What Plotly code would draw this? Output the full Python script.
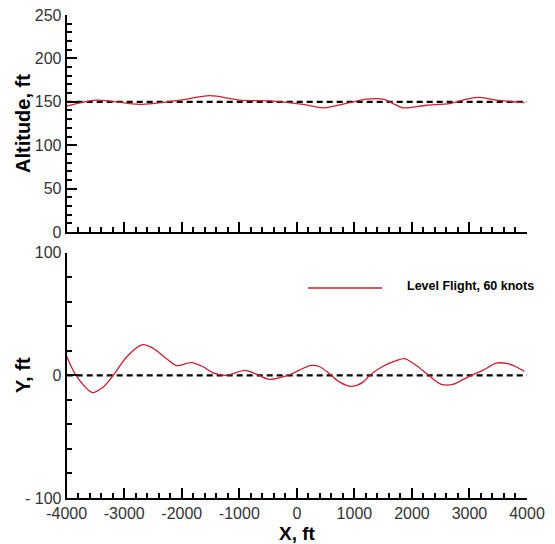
import plotly.graph_objects as go

# ---- data ----
alt_x = [-4000, -3480, -2728, -2033, -1513, -992, -470, 110, 457, 920, 1209, 1498,
         1671, 1845, 2250, 2655, 2886, 3146, 3464, 3956]
alt_y = [145, 152, 147, 152, 157, 152, 151, 147, 143, 149, 153, 153,
         148, 143, 146, 148, 152, 155, 152, 149]

y_x = [-4000, -3838, -3549, -3364, -3190, -2959, -2681, -2496, -2265, -2091, -1831,
       -1629, -1455, -1224, -906, -703, -472, -121, 226, 400, 573, 746, 949, 1151,
       1267, 1498, 1729, 1874, 2076, 2279, 2510, 2713, 2886, 3059, 3233, 3464,
       3667, 3811, 3956]
y_y = [15.5, 0, -14, -9.5, 0, 15, 25, 22, 13.6, 8, 10.4,
       7, 2, 0, 4, 1, -3.3, 0.5, 8, 7, 1, -5.5, -9, -5.5,
       0, 7.4, 12, 13.6, 8, 0.5, -7.4, -7.4, -3.5, 0.5, 4, 10,
       9.5, 7, 3.3]

ref_x = [-4000, 4000]
ref_alt = [150, 150]
ref_y = [0, 0]

x_ticks = [-4000, -3000, -2000, -1000, 0, 1000, 2000, 3000, 4000]
x_tick_labels = ["-4000", "-3000", "-2000", "-1000", "0", "1000", "2000", "3000", "4000"]
alt_ticks = [0, 50, 100, 150, 200, 250]
alt_tick_labels = ["0", "50", "100", "150", "200", "250"]
yy_ticks = [-100, 0, 100]
yy_tick_labels = ["- 100", "0", "100"]

series_name = "Level Flight, 60 knots"
RED = "#d01c2c"

# page offset from the default 8px body margin
OFF = 8
W, H = 555 - OFF, 544 - OFF


def fx(px):
    return (px - OFF) / W


def fy(py):
    return 1 - (py - OFF) / H


x0, x1 = 66.7, 527.0
top_t, top_b = 15.0, 232.0
bot_t, bot_b = 252.7, 498.0

fig = go.Figure()
fig.add_trace(go.Scatter(x=ref_x, y=ref_alt, mode="lines", xaxis="x", yaxis="y",
                         line=dict(color="black", width=2.2, dash="6px,4px"), showlegend=False))
fig.add_trace(go.Scatter(x=alt_x, y=alt_y, mode="lines", xaxis="x", yaxis="y",
                         line=dict(color=RED, width=1.3, shape="spline", smoothing=0.8),
                         name=series_name, showlegend=False))
fig.add_trace(go.Scatter(x=ref_x, y=ref_y, mode="lines", xaxis="x2", yaxis="y2",
                         line=dict(color="black", width=2.2, dash="6px,4px"), showlegend=False))
fig.add_trace(go.Scatter(x=y_x, y=y_y, mode="lines", xaxis="x2", yaxis="y2",
                         line=dict(color=RED, width=1.3, shape="spline", smoothing=0.8),
                         name=series_name, showlegend=False))

tickfont = dict(family="Liberation Sans, Arial, sans-serif", size=16, color="#333")
common = dict(showline=True, linecolor="black", linewidth=2, ticks="inside",
              tickcolor="black", ticklen=10, tickwidth=2, showgrid=False, zeroline=False,
              tickfont=tickfont, mirror=False, automargin=False, ticklabeloverflow="allow")

xdom = [fx(x0), fx(x1)]
fig.update_layout(
    template="none",
    width=W, height=H, margin=dict(l=0, r=0, t=0, b=0, pad=0),
    paper_bgcolor="white", plot_bgcolor="white",
    xaxis=dict(domain=xdom, anchor="y", range=[-4000, 4000], tickvals=x_ticks,
               showticklabels=False,
               minor=dict(ticks="inside", dtick=200, ticklen=5, tickwidth=1.5, tickcolor="black"),
               **common),
    yaxis=dict(domain=[fy(top_b), fy(top_t)], anchor="x", range=[0, 250],
               tickvals=alt_ticks, ticktext=alt_tick_labels,
               minor=dict(ticks="inside", dtick=10, ticklen=5, tickwidth=1.5, tickcolor="black"),
               **common),
    xaxis2=dict(domain=xdom, anchor="y2", range=[-4000, 4000], tickvals=x_ticks,
                ticktext=x_tick_labels,
                minor=dict(ticks="inside", dtick=200, ticklen=5, tickwidth=1.5, tickcolor="black"),
                **common),
    yaxis2=dict(domain=[fy(bot_b), fy(bot_t)], anchor="x2", range=[-100, 100],
                tickvals=yy_ticks, ticktext=yy_tick_labels,
                minor=dict(ticks="inside", dtick=20, ticklen=5, tickwidth=1.5, tickcolor="black"),
                **common),
)

titlefont = dict(family="Liberation Sans, Arial, sans-serif", size=20, color="black", weight="bold")
fig.add_annotation(text="Altitude, ft", x=fx(23), y=fy(124), xref="paper", yref="paper",
                   textangle=-90, showarrow=False, font=titlefont, xanchor="center", yanchor="middle")
fig.add_annotation(text="Y, ft", x=fx(23), y=fy(375), xref="paper", yref="paper",
                   textangle=-90, showarrow=False, font=titlefont, xanchor="center", yanchor="middle")
fig.add_annotation(text="X, ft", x=fx(297), y=fy(533), xref="paper", yref="paper",
                   showarrow=False, xanchor="center", yanchor="middle",
                   font=dict(family="Liberation Sans, Arial, sans-serif", size=19,
                             color="black", weight="bold"))

# manual legend
fig.add_shape(type="line", xref="paper", yref="paper", x0=fx(308), x1=fx(382),
              y0=fy(288), y1=fy(288), line=dict(color=RED, width=1.3))
fig.add_annotation(text=series_name, x=fx(405), y=fy(286), xref="paper", yref="paper",
                   showarrow=False, xanchor="left", yanchor="middle",
                   font=dict(family="Liberation Sans, Arial, sans-serif", size=12.5,
                             color="black", weight="bold"))

fig.write_html("out.html")
